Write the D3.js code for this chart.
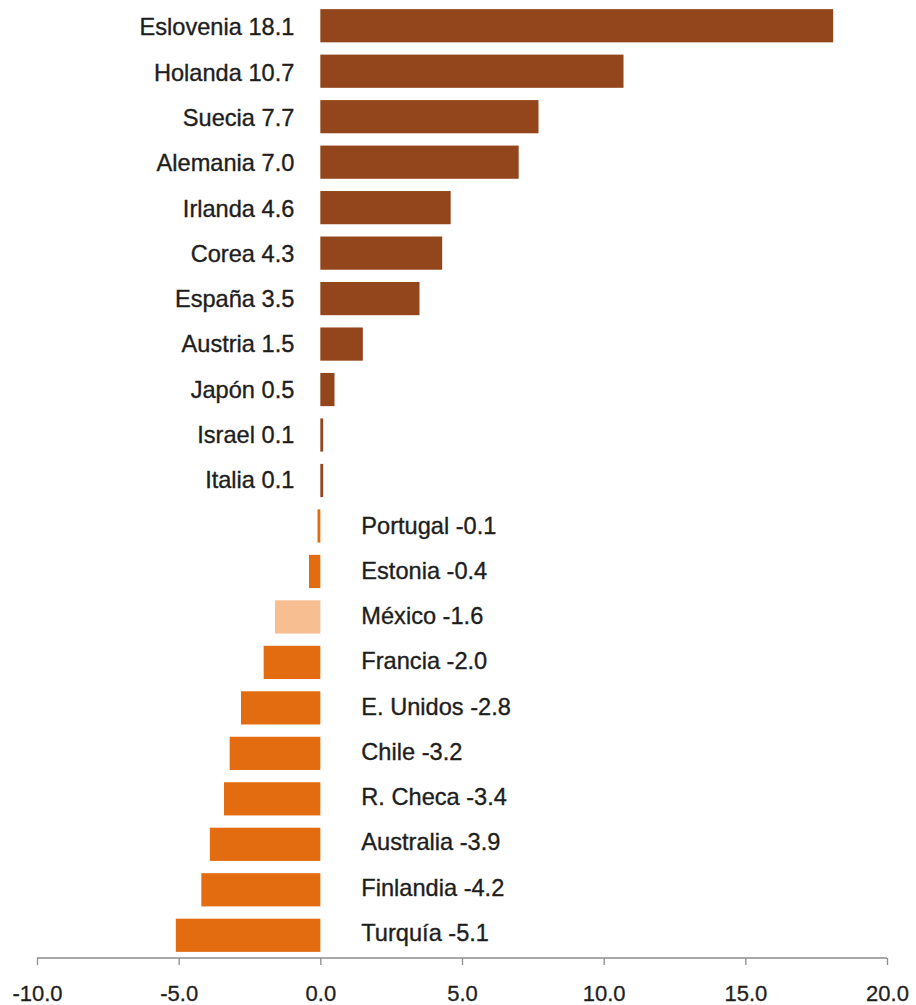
<!DOCTYPE html>
<html><head><meta charset="utf-8">
<script src="https://cdn.jsdelivr.net/npm/d3@7"></script>
<style>body{margin:0;background:#fff}svg{display:block}</style>
</head><body>
<script>
const countries = ["Eslovenia","Holanda","Suecia","Alemania","Irlanda","Corea","España","Austria","Japón","Israel","Italia","Portugal","Estonia","México","Francia","E. Unidos","Chile","R. Checa","Australia","Finlandia","Turquía"];
const values = [18.1,10.7,7.7,7.0,4.6,4.3,3.5,1.5,0.5,0.1,0.1,-0.1,-0.4,-1.6,-2.0,-2.8,-3.2,-3.4,-3.9,-4.2,-5.1];
const highlight = ["México"];
const tickValues = [-10,-5,0,5,10,15,20];

const W = 916, H = 1005;
const svg = d3.select("body").append("svg").attr("width", W).attr("height", H);

const x = d3.scaleLinear().domain([-10, 20]).range([37, 887]);
const y = d3.scaleBand().domain(countries).range([3, 958]).paddingInner(0.27).paddingOuter(0.135);

const colPos = "#93451C", colNeg = "#E36C10", colHi = "#F6BE91";
const data = countries.map((c, i) => ({c, v: values[i]}));
const fmt = v => (v < 0 ? "-" : "") + Math.abs(v).toFixed(1);

svg.selectAll("rect.bar").data(data).join("rect")
  .attr("class", "bar")
  .attr("x", d => x(Math.min(0, d.v)))
  .attr("width", d => Math.abs(x(d.v) - x(0)))
  .attr("y", d => y(d.c))
  .attr("height", y.bandwidth())
  .attr("fill", d => highlight.includes(d.c) ? colHi : (d.v >= 0 ? colPos : colNeg));

svg.selectAll("text.lab").data(data).join("text")
  .attr("class", "lab")
  .attr("x", d => d.v >= 0 ? x(0) - 26 : x(0) + 41)
  .attr("y", (d, i) => y(d.c) + y.bandwidth() / 2 + 3.5 - i * 0.2)
  .attr("text-anchor", d => d.v >= 0 ? "end" : "start")
  .attr("dominant-baseline", "middle")
  .style("font-family", "Liberation Sans, Arial, sans-serif")
  .style("font-size", "23.6px")
  .attr("fill", "#1e1e1e")
  .attr("stroke", "#1e1e1e").attr("stroke-width", 0.35)
  .text(d => d.c + " " + fmt(d.v));

const axisY = 958;
const axis = d3.axisBottom(x).tickValues(tickValues).tickSize(7).tickPadding(20)
  .tickFormat(fmt);
const g = svg.append("g").attr("transform", `translate(0,${axisY})`).call(axis);
g.select(".domain").attr("stroke", "#8c8c8c").attr("stroke-width", 1.3).attr("d", `M${x(-10)},0H${x(20)}`);
g.selectAll(".tick line").attr("stroke", "#8c8c8c").attr("stroke-width", 1.3);
g.selectAll(".tick text")
  .style("font-family", "Liberation Sans, Arial, sans-serif")
  .style("font-size", "22px")
  .attr("fill", "#1e1e1e")
  .attr("stroke", "#1e1e1e").attr("stroke-width", 0.3);
</script>
</body></html>
